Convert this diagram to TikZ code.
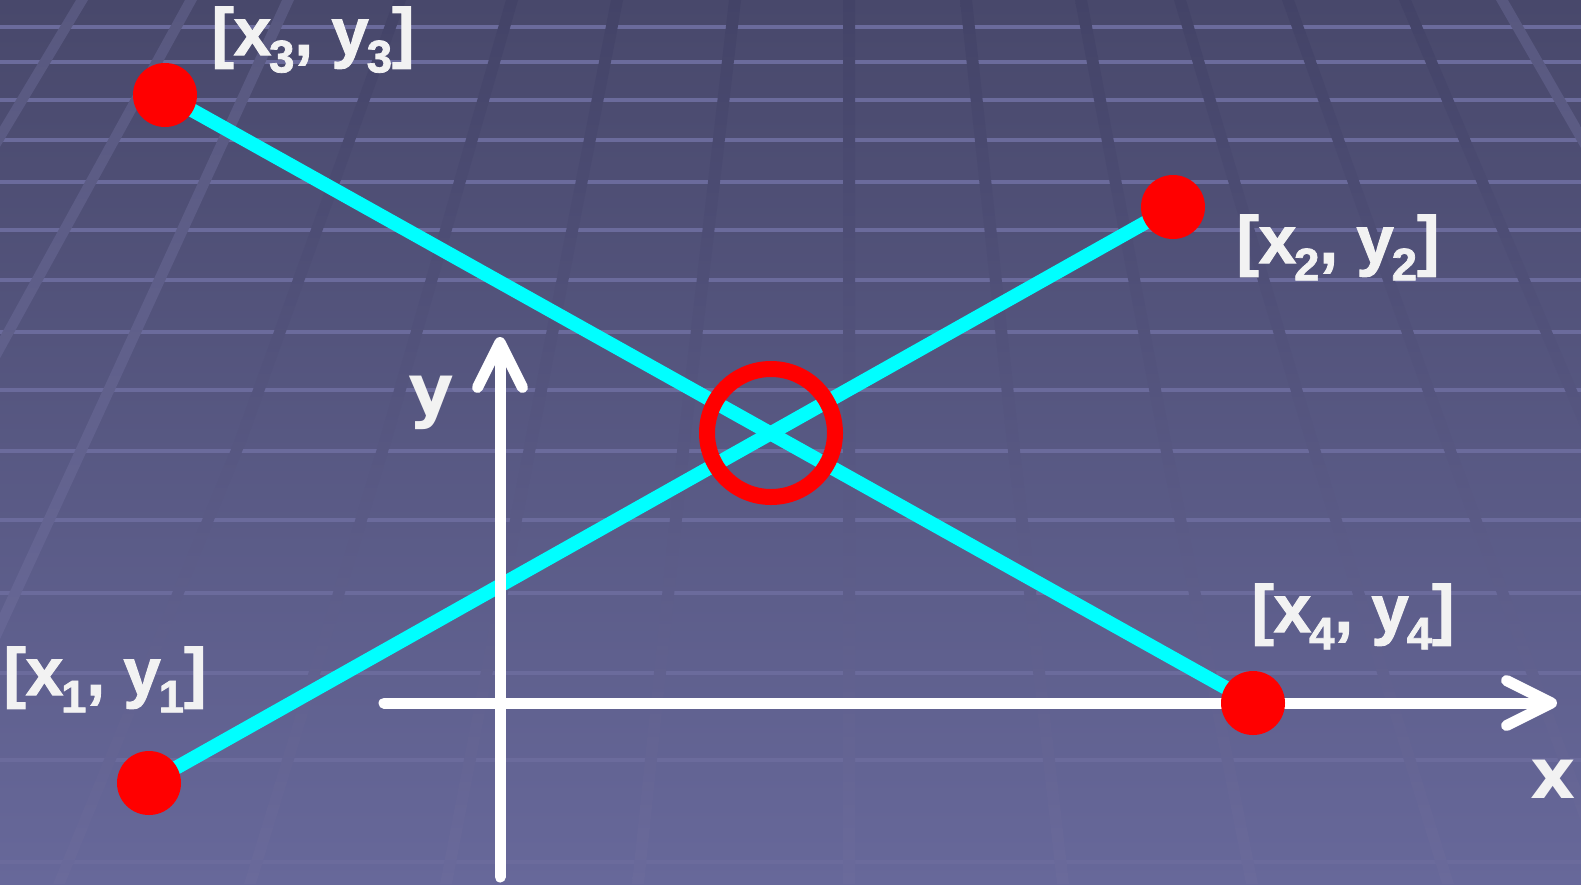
\documentclass[tikz,border=0pt]{standalone}
\usepackage{fontspec}
\setmainfont{Liberation Sans}
\newfontfamily\lblfont{Liberation Sans Bold}[FakeBold=1.6]
\newfontfamily\axfont{DejaVu Sans Bold}
\usetikzlibrary{arrows.meta}
\definecolor{cbgtop}{HTML}{48486B}
\definecolor{cbgbot}{HTML}{67689A}
\definecolor{cgrid}{HTML}{6B6B9C}
\definecolor{cslanttop}{HTML}{434367}
\definecolor{cslantbot}{HTML}{6A6A9B}
\definecolor{cpaletop}{HTML}{58587F}
\definecolor{cpalebot}{HTML}{6C6C9D}
\definecolor{ccyan}{HTML}{00FFFF}
\definecolor{cred}{HTML}{FF0000}
\definecolor{ctext}{HTML}{F2F2F2}
\newcommand{\subix}[1]{\kern-0.03em\raisebox{-0.26em}{\fontsize{26}{26}\selectfont #1}}
\tikzset{
  every picture/.style={x=0.2mm, y=-0.2mm},
  gridh/.style={draw=cgrid, line width=0.8mm},
  segline/.style={draw=ccyan, line width=2.8mm},
  axisline/.style={draw=white, line width=2.2mm, line cap=round, -{Straight Barb[length=9mm, width=9mm, round]}},
  ptdot/.style={circle, fill=cred, minimum size=12.8mm, inner sep=0pt},
  crossring/.style={circle, draw=cred, line width=3.2mm, minimum size=25.6mm, inner sep=0pt},
  ptlabel/.style={text=ctext, font=\lblfont\fontsize{38}{40}\selectfont, inner sep=0pt, anchor=base},
  axlabel/.style={text=ctext, font=\axfont\fontsize{40}{42}\selectfont, inner sep=0pt, anchor=base},
}

\begin{document}
\begin{tikzpicture}
  \useasboundingbox (0,0) rectangle (1581,884);
  % backdrop: floor grid
  \begin{scope}
    \clip (0,0) rectangle (1581,884);
    \shade[top color=cbgtop, bottom color=cbgbot] (0,0) rectangle (1581,884);
    \foreach \y in {27,62,100,140,182,230,280,332,390,451,520,593,673,760,862}
      \draw[gridh] (0,\y) -- (1581,\y);
    \foreach \xa/\xb/\xc in {82/-183/-448, 191/-52/-295, 288/85/-119}
      \shade[top color=cpaletop, bottom color=cpalebot] (\xa-6,0) -- (\xb-6,442) -- (\xc-6,884) -- (\xc+6,884) -- (\xb+6,442) -- (\xa+6,0) -- cycle;
    \foreach \xa/\xb/\xc in {400/240/59, 512/385/250, 617/531/446, 735/684/638, 849/849/849, 966/1013/1063, 1081/1165/1252, 1180/1312/1448, 1288/1447/1610, 1405/1593/1780}
      \shade[top color=cslanttop, bottom color=cslantbot] (\xa-6,0) -- (\xb-6,442) -- (\xc-6,884) -- (\xc+6,884) -- (\xb+6,442) -- (\xa+6,0) -- cycle;
    \shade[top color=cpaletop, bottom color=cpalebot] (1496,0) -- (1750,442) -- (2004,884) -- (2016,884) -- (1762,442) -- (1508,0) -- cycle;
  \end{scope}

  \coordinate (p1) at (149,783);
  \coordinate (p2) at (1173,207);
  \coordinate (p3) at (165,95);
  \coordinate (p4) at (1253,703);
  \draw[segline] (p1) -- (p2);
  \draw[segline] (p3) -- (p4);

  % axes
  \coordinate (xfrom) at (384,703);
  \coordinate (xto) at (1557,703);
  \coordinate (yfrom) at (500,877);
  \coordinate (yto) at (500,337);
  \draw[axisline] (xfrom) -- (xto);
  \draw[axisline] (yfrom) -- (yto);
  \node[axlabel] (xname) at (1553,798) {x};
  \node[axlabel] (yname) at (431,414) {y};

  \foreach \i in {1,...,4} \node[ptdot] (d\i) at (p\i) {};
  \node[crossring] (meet) at (771,433) {};

  \node[ptlabel] (l1) at (105,695) {[x\subix{1}, y\subix{1}]};
  \node[ptlabel] (l2) at (1338,263) {[x\subix{2}, y\subix{2}]};
  \node[ptlabel] (l3) at (313,55) {[x\subix{3}, y\subix{3}]};
  \node[ptlabel] (l4) at (1353,632) {[x\subix{4}, y\subix{4}]};
\end{tikzpicture}
\end{document}
